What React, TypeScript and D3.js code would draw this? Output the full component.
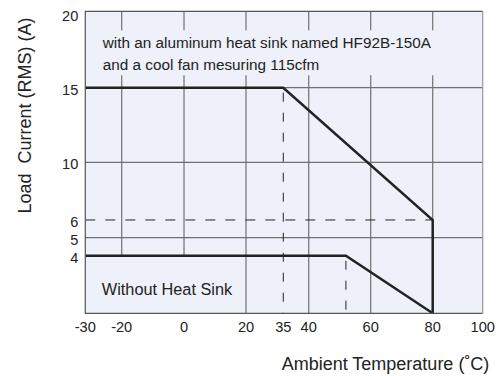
import * as d3 from "d3"

// axis ticks (the original chart uses a hand-drawn, uneven scale)
const xTicks = [-30, -20, 0, 20, 35, 40, 60, 80, 100]
const yTicks = [4, 5, 6, 10, 15, 20]
const xGrid = [-20, 0, 20, 40, 60, 80]
const yGrid = [5, 10, 15]

// derating curves: [temperature, current]
const withSink: [number, number][] = [
  [-30, 15],
  [35, 15],
  [80, 6],
  [80, 0],
]
const noSink: [number, number][] = [
  [-30, 4],
  [52, 4],
  [80, 0],
]

const noteLines = ["with an aluminum heat sink named HF92B-150A", "and a cool fan mesuring 115cfm"]

export default function App() {
  const width = 503
  const height = 376
  const m = { top: 11.3, left: 85.3, right: 20.3, bottom: 62.7 }
  const iw = width - m.left - m.right
  const ih = height - m.top - m.bottom

  // piecewise scales, where the tick spacing of the source figure is uneven
  const xFrac = [0, 0.0916, 0.2484, 0.4044, 0.4982, 0.5622, 0.7182, 0.8742, 1]
  const x = d3.scaleLinear().domain(xTicks).range(xFrac.map((f) => f * iw))
  const yFrac = [0, 0.1907, 0.2503, 0.309, 0.5, 0.747, 1]
  const y = d3
    .scaleLinear()
    .domain([0, ...yTicks])
    .range(yFrac.map((f) => ih - f * ih))

  const line = d3
    .line<[number, number]>()
    .x((d) => x(d[0]))
    .y((d) => y(d[1]))

  const bg = "#eef1f9"
  const grid = "#707070"
  const ink = "#222"
  const font = "Liberation Sans, Arial, sans-serif"

  return (
    <svg width={width} height={height} style={{ display: "block", position: "absolute", left: 0, top: 0 }}>
      <rect width={width} height={height} fill="#fff" />
      <g transform={`translate(${m.left},${m.top})`}>
        <rect width={iw} height={ih} fill={bg} />
        {xGrid.map((v) => (
          <line key={"gx" + v} x1={x(v)} x2={x(v)} y1={0} y2={ih} stroke={grid} strokeWidth={1.2} />
        ))}
        {yGrid.map((v) => (
          <line key={"gy" + v} x1={0} x2={iw} y1={y(v)} y2={y(v)} stroke={grid} strokeWidth={1.2} />
        ))}
        {/* label boxes hide the grid behind the notes */}
        <rect x={1} y={19} width={x(80) + 8} height={45} fill={bg} />
        <rect x={1} y={y(4)} width={x(20) - 6} height={ih - y(4)} fill={bg} />

        <line x1={0} x2={x(80)} y1={y(6)} y2={y(6)} stroke={ink} strokeWidth={1} strokeDasharray="10,10" />
        <line x1={x(35)} x2={x(35)} y1={y(15)} y2={ih} stroke={ink} strokeWidth={1} strokeDasharray="9,11" strokeDashoffset={-5} />
        <line x1={x(52)} x2={x(52)} y1={y(4)} y2={ih} stroke={ink} strokeWidth={1} strokeDasharray="9,11" strokeDashoffset={-5} />

        <path d={line(withSink) ?? ""} fill="none" stroke={ink} strokeWidth={2.5} strokeLinejoin="miter" />
        <path d={line(noSink) ?? ""} fill="none" stroke={ink} strokeWidth={2.5} />

        <path d={`M${iw},0H0V${ih}H${iw}`} fill="none" stroke="#555" strokeWidth={1.2} />
        <line x1={iw} x2={iw} y1={0} y2={ih} stroke="#999" strokeWidth={1.2} />

        {noteLines.map((t, i) => (
          <text key={t} x={17.5} y={37 + i * 21.5} fontFamily={font} fontSize={15.3} fill={ink}>
            {t}
          </text>
        ))}
        <text x={81.7} y={y(0) - 18} fontFamily={font} fontSize={16.3} fill={ink} textAnchor="middle">
          Without Heat Sink
        </text>

        {yTicks.map((v) => (
          <text
            key={"ty" + v}
            x={-7}
            y={y(v) + (v === 20 ? 5 : 2)}
            dy="0.35em"
            textAnchor="end"
            fontFamily={font}
            fontSize={14.6}
            fill={ink}
          >
            {v}
          </text>
        ))}
        {xTicks.map((v) => (
          <text key={"tx" + v} x={x(v)} y={ih + 14} dy="0.35em" textAnchor="middle" fontFamily={font} fontSize={14.6} fill={ink}>
            {v}
          </text>
        ))}
      </g>
      <text x={385.5} y={370} textAnchor="middle" fontFamily={font} fontSize={18} fill={ink}>
        Ambient Temperature (˚C)
      </text>
      <text
        transform="translate(31,115.5) rotate(-90)"
        textAnchor="middle"
        fontFamily={font}
        fontSize={18}
        fill={ink}
        style={{ whiteSpace: "pre" }}
      >
        {"Load  Current (RMS) (A)"}
      </text>
    </svg>
  )
}
